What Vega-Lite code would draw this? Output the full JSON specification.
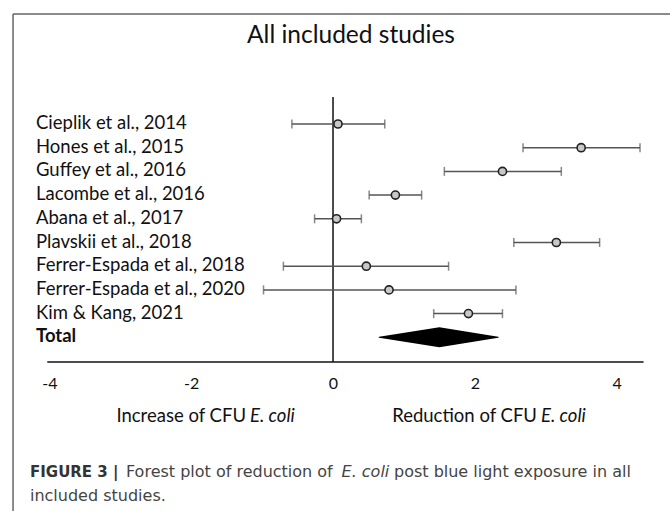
{
  "$schema": "https://vega.github.io/schema/vega-lite/v6.json",
  "width": 670,
  "height": 511,
  "autosize": {"type": "none"},
  "padding": 0,
  "background": "white",
  "config": {"view": {"stroke": null}},
  "datasets": {
    "studies": [
      {"name": "Cieplik et al., 2014", "order": 1, "est": 0.07, "lo": -0.58, "hi": 0.73},
      {"name": "Hones et al., 2015", "order": 2, "est": 3.50, "lo": 2.68, "hi": 4.33},
      {"name": "Guffey et al., 2016", "order": 3, "est": 2.39, "lo": 1.57, "hi": 3.22},
      {"name": "Lacombe et al., 2016", "order": 4, "est": 0.88, "lo": 0.51, "hi": 1.25},
      {"name": "Abana et al., 2017", "order": 5, "est": 0.05, "lo": -0.26, "hi": 0.40},
      {"name": "Plavskii et al., 2018", "order": 6, "est": 3.15, "lo": 2.55, "hi": 3.76},
      {"name": "Ferrer-Espada et al., 2018", "order": 7, "est": 0.47, "lo": -0.70, "hi": 1.63},
      {"name": "Ferrer-Espada et al., 2020", "order": 8, "est": 0.79, "lo": -0.98, "hi": 2.58},
      {"name": "Kim & Kang, 2021", "order": 9, "est": 1.91, "lo": 1.42, "hi": 2.39},
      {"name": "Total", "order": 10, "est": 1.50, "lo": 0.65, "hi": 2.33}
    ],
    "one": [{}]
  },
  "data": {"name": "studies"},
  "encoding": {
    "x": {"type": "quantitative", "scale": {"domain": [-4.697, 4.753], "nice": false, "zero": false}},
    "y": {"type": "quantitative", "scale": {"domain": [-4.232, 17.329], "nice": false, "zero": false, "reverse": true}}
  },
  "layer": [
    {
      "data": {"name": "one"},
      "mark": {"type": "rule", "color": "#666666", "strokeWidth": 1.5},
      "encoding": {"x": {"datum": -4.513, "type": "quantitative", "axis": {"orient": "bottom", "values": [-4, -2, 0, 2, 4], "labelExpr": "'' + datum.value", "domain": false, "ticks": false, "grid": false, "title": null, "offset": -149, "labelPadding": 21, "labelBaseline": "middle", "labelFont": "Lato", "labelFontSize": 16, "labelColor": "#111111"}}, "y": {"datum": -3.641, "type": "quantitative", "axis": null}, "y2": {"datum": 17.5}}
    },
    {
      "data": {"name": "one"},
      "mark": {"type": "rule", "color": "#666666", "strokeWidth": 1.5},
      "encoding": {"x": {"datum": -4.513, "type": "quantitative"}, "x2": {"datum": 4.9}, "y": {"datum": -3.641, "type": "quantitative"}}
    },
    {
      "data": {"name": "one"},
      "mark": {"type": "rule", "color": "#111111", "strokeWidth": 1.5},
      "encoding": {"x": {"datum": 0, "type": "quantitative"}, "y": {"datum": -0.14, "type": "quantitative"}, "y2": {"datum": 11.04}}
    },
    {
      "data": {"name": "one"},
      "mark": {"type": "rule", "color": "#111111", "strokeWidth": 1.5},
      "encoding": {"x": {"datum": -4.03, "type": "quantitative"}, "x2": {"datum": 4.38}, "y": {"datum": 11.04, "type": "quantitative"}}
    },
    {
      "transform": [{"filter": "datum.name !== 'Total'"}],
      "mark": {"type": "rule", "color": "#555555", "strokeWidth": 1.5},
      "encoding": {"x": {"field": "lo", "type": "quantitative"}, "x2": {"field": "hi"}, "y": {"field": "order", "type": "quantitative"}}
    },
    {
      "transform": [{"filter": "datum.name !== 'Total'"}],
      "mark": {"type": "tick", "orient": "vertical", "color": "#555555", "thickness": 1.5, "size": 9},
      "encoding": {"x": {"field": "lo", "type": "quantitative"}, "y": {"field": "order", "type": "quantitative"}}
    },
    {
      "transform": [{"filter": "datum.name !== 'Total'"}],
      "mark": {"type": "tick", "orient": "vertical", "color": "#555555", "thickness": 1.5, "size": 9},
      "encoding": {"x": {"field": "hi", "type": "quantitative"}, "y": {"field": "order", "type": "quantitative"}}
    },
    {
      "transform": [{"filter": "datum.name !== 'Total'"}],
      "mark": {"type": "point", "shape": "circle", "filled": true, "fill": "#c8c8c8", "stroke": "#222222", "strokeWidth": 1.6, "size": 66, "opacity": 1},
      "encoding": {"x": {"field": "est", "type": "quantitative"}, "y": {"field": "order", "type": "quantitative"}}
    },
    {
      "transform": [{"filter": "datum.name === 'Total'"}, {"fold": ["lo", "est", "hi"], "as": ["part", "xv"]}],
      "mark": {"type": "trail", "color": "#000000"},
      "encoding": {
        "x": {"field": "xv", "type": "quantitative"},
        "y": {"field": "order", "type": "quantitative"},
        "order": {"field": "xv", "type": "quantitative"},
        "size": {"field": "part", "type": "nominal", "scale": {"type": "ordinal", "domain": ["lo", "est", "hi"], "range": [0, 20, 0]}, "legend": null}
      }
    },
    {
      "transform": [{"filter": "datum.name !== 'Total'"}],
      "mark": {"type": "text", "align": "left", "baseline": "middle", "font": "Lato", "fontSize": 18.5, "color": "#111111", "dy": -1},
      "encoding": {"x": {"datum": -4.189, "type": "quantitative"}, "y": {"field": "order", "type": "quantitative"}, "text": {"field": "name"}}
    },
    {
      "transform": [{"filter": "datum.name === 'Total'"}],
      "mark": {"type": "text", "align": "left", "baseline": "middle", "font": "Lato", "fontSize": 18.5, "fontWeight": "bold", "color": "#111111", "dy": -1},
      "encoding": {"x": {"datum": -4.189, "type": "quantitative"}, "y": {"field": "order", "type": "quantitative"}, "text": {"field": "name"}}
    },
    {
      "data": {"name": "one"},
      "mark": {"type": "text", "align": "center", "baseline": "middle", "font": "Lato", "fontSize": 24.5, "color": "#111111", "text": "All included studies"},
      "encoding": {"x": {"datum": 0.254, "type": "quantitative"}, "y": {"datum": -2.7, "type": "quantitative"}}
    },
    {
      "data": {"name": "one"},
      "mark": {"type": "text", "align": "right", "baseline": "middle", "font": "Lato", "fontSize": 18.5, "color": "#111111", "text": "Increase of CFU"},
      "encoding": {"x": {"datum": -1.227, "type": "quantitative"}, "y": {"datum": 13.32, "type": "quantitative"}}
    },
    {
      "data": {"name": "one"},
      "mark": {"type": "text", "align": "left", "baseline": "middle", "font": "Lato", "fontSize": 18.5, "fontStyle": "italic", "color": "#111111", "text": "E. coli"},
      "encoding": {"x": {"datum": -1.171, "type": "quantitative"}, "y": {"datum": 13.32, "type": "quantitative"}}
    },
    {
      "data": {"name": "one"},
      "mark": {"type": "text", "align": "right", "baseline": "middle", "font": "Lato", "fontSize": 18.5, "color": "#111111", "text": "Reduction of CFU"},
      "encoding": {"x": {"datum": 2.877, "type": "quantitative"}, "y": {"datum": 13.32, "type": "quantitative"}}
    },
    {
      "data": {"name": "one"},
      "mark": {"type": "text", "align": "left", "baseline": "middle", "font": "Lato", "fontSize": 18.5, "fontStyle": "italic", "color": "#111111", "text": "E. coli"},
      "encoding": {"x": {"datum": 2.933, "type": "quantitative"}, "y": {"datum": 13.32, "type": "quantitative"}}
    },
    {
      "data": {"name": "one"},
      "mark": {"type": "text", "align": "left", "baseline": "middle", "font": "DejaVu Sans", "fontSize": 15, "fontWeight": "bold", "color": "#333333", "text": "FIGURE 3 |"},
      "encoding": {"x": {"datum": -4.274, "type": "quantitative"}, "y": {"datum": 15.7, "type": "quantitative"}}
    },
    {
      "data": {"name": "one"},
      "mark": {"type": "text", "align": "left", "baseline": "middle", "font": "DejaVu Sans", "fontSize": 16, "color": "#444444", "text": "Forest plot of reduction of"},
      "encoding": {"x": {"datum": -2.92, "type": "quantitative"}, "y": {"datum": 15.7, "type": "quantitative"}}
    },
    {
      "data": {"name": "one"},
      "mark": {"type": "text", "align": "left", "baseline": "middle", "font": "DejaVu Sans", "fontSize": 16, "fontStyle": "italic", "color": "#444444", "text": "E. coli"},
      "encoding": {"x": {"datum": 0.12, "type": "quantitative"}, "y": {"datum": 15.7, "type": "quantitative"}}
    },
    {
      "data": {"name": "one"},
      "mark": {"type": "text", "align": "left", "baseline": "middle", "font": "DejaVu Sans", "fontSize": 16, "color": "#444444", "text": "post blue light exposure in all"},
      "encoding": {"x": {"datum": 0.86, "type": "quantitative"}, "y": {"datum": 15.7, "type": "quantitative"}}
    },
    {
      "data": {"name": "one"},
      "mark": {"type": "text", "align": "left", "baseline": "middle", "font": "DejaVu Sans", "fontSize": 16, "color": "#444444", "text": "included studies."},
      "encoding": {"x": {"datum": -4.274, "type": "quantitative"}, "y": {"datum": 16.7, "type": "quantitative"}}
    }
  ]
}
